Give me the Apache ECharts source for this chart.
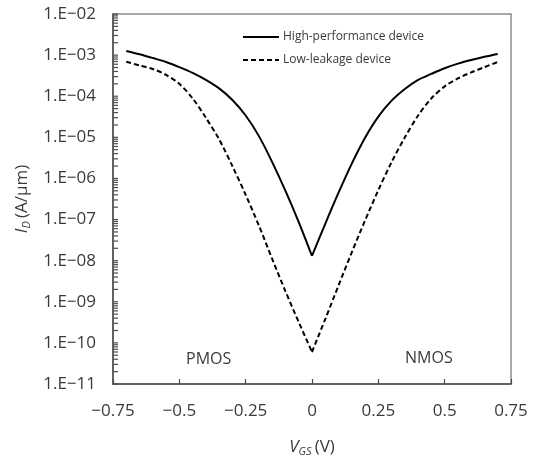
<!DOCTYPE html>
<html>
<head>
<meta charset="utf-8">
<script src="https://cdn.jsdelivr.net/npm/echarts@6/dist/echarts.min.js"></script>
<style>
html, body { margin: 0; padding: 0; background: #fff; }
#chart { width: 538px; height: 462px; }
</style>
</head>
<body>
<div id="chart"></div>
<script>
// Gate voltage sweep (V)
const vgs = [-0.70, -0.65, -0.60, -0.55, -0.50, -0.45, -0.40, -0.35, -0.30, -0.25,
             -0.20, -0.15, -0.10, -0.05, 0.00, 0.05, 0.10, 0.15, 0.20, 0.25,
             0.30, 0.35, 0.40, 0.45, 0.50, 0.55, 0.60, 0.65, 0.70];

// Drain current (A/µm), high-performance device
const highPerformance = [1.26e-3, 1.05e-3, 8.5e-4, 6.8e-4, 5.1e-4, 3.7e-4, 2.5e-4, 1.55e-4, 8.1e-5, 3.4e-5,
                         1.07e-5, 2.5e-6, 5.0e-7, 8.7e-8, 1.3e-8, 7.9e-8, 4.5e-7, 2.3e-6, 9.8e-6, 3.2e-5,
                         7.8e-5, 1.5e-4, 2.5e-4, 3.5e-4, 4.8e-4, 6.2e-4, 7.6e-4, 9.1e-4, 1.07e-3];

// Drain current (A/µm), low-leakage device
const lowLeakage = [6.9e-4, 5.6e-4, 4.6e-4, 3.3e-4, 2.0e-4, 8.9e-5, 3.0e-5, 8.9e-6, 2.0e-6, 4.0e-7,
                    7.1e-8, 1.1e-8, 1.8e-9, 3.2e-10, 6.0e-11, 3.8e-10, 2.5e-9, 1.6e-8, 9.5e-8, 5.2e-7,
                    2.5e-6, 1.0e-5, 3.4e-5, 8.9e-5, 1.74e-4, 2.7e-4, 3.8e-4, 5.1e-4, 6.8e-4];

const seriesNames = ['High-performance device', 'Low-leakage device'];
const regionLabels = ['PMOS', 'NMOS'];

// Axis ranges
const xMin = -0.75, xMax = 0.75, xStep = 0.25;
const yMinExp = -11, yMaxExp = -2;

// Log-spaced tick positions on the current axis: 1..9 × 10^n for every decade
const yTickValues = [];
for (let e = yMinExp; e < yMaxExp; e++) {
  for (let k = 1; k <= 9; k++) yTickValues.push(k * Math.pow(10, e));
}
yTickValues.push(Math.pow(10, yMaxExp));

const FONT = '"Open Sans", "Noto Sans", sans-serif';
const TEXT = '#3a3a3a';
const AXIS = '#4d4d4d';

// Each sweep is drawn as two branches (V ≤ 0 and V ≥ 0) so the curves stay
// smooth while the minimum at V = 0 keeps its sharp corner.
const zeroIdx = vgs.indexOf(0);
const branch = (ys, left) => vgs
  .map((v, i) => [v, ys[i]])
  .filter((_, i) => (left ? i <= zeroIdx : i >= zeroIdx));

const lineSeries = (name, ys, left, dashed) => ({
  name,
  type: 'line',
  symbol: 'none',
  smooth: 0.3,
  lineStyle: { color: '#000', width: 2, type: dashed ? [5, 3] : 'solid' },
  itemStyle: { color: '#000' },
  data: branch(ys, left)
});

const chart = echarts.init(document.getElementById('chart'), null, { renderer: 'canvas' });

chart.setOption({
  backgroundColor: '#fff',
  animation: false,
  textStyle: { fontFamily: FONT },
  grid: {
    left: 113, right: 27, top: 14, bottom: 69,
    show: true, borderColor: '#8a8a8a', borderWidth: 1.5, backgroundColor: 'transparent'
  },
  legend: {
    orient: 'vertical',
    left: 237, top: 26,
    itemWidth: 36, itemHeight: 14, itemGap: 11,
    itemStyle: { opacity: 0 },
    textStyle: { fontFamily: FONT, fontSize: 12, color: TEXT, padding: [0, 0, 0, -1] },
    data: seriesNames
  },
  xAxis: {
    type: 'value',
    min: xMin, max: xMax, interval: xStep,
    splitLine: { show: false },
    axisLine: { onZero: false, lineStyle: { color: AXIS, width: 1.5 } },
    axisTick: { show: true, inside: true, length: 5, lineStyle: { color: AXIS, width: 1.2 } },
    axisLabel: {
      margin: 19, fontSize: 17, color: TEXT, fontFamily: FONT,
      formatter: (v) => String(Math.round(v * 100) / 100).replace('-', '\u2212')
    },
    name: '{v|V}{s|GS} {n|(V)}',
    nameLocation: 'middle',
    nameGap: 53,
    nameTextStyle: {
      rich: {
        v: { fontFamily: FONT, fontSize: 17, fontStyle: 'italic', color: TEXT },
        s: { fontFamily: FONT, fontSize: 11, fontStyle: 'italic', color: TEXT, padding: [9, 0, 0, 0] },
        n: { fontFamily: FONT, fontSize: 17, color: TEXT }
      }
    }
  },
  yAxis: {
    type: 'log',
    logBase: 10,
    min: Math.pow(10, yMinExp), max: Math.pow(10, yMaxExp),
    interval: 1,
    splitLine: { show: false },
    axisLine: { onZero: false, lineStyle: { color: AXIS, width: 1.5 } },
    axisTick: { show: false },
    axisLabel: {
      margin: 17, fontSize: 17, color: TEXT, fontFamily: FONT,
      formatter: (v) => {
        const e = Math.round(Math.log10(v));
        const mag = String(Math.abs(e)).padStart(2, '0');
        return '1.E' + (e < 0 ? '\u2212' : '+') + mag;
      }
    },
    name: '{i|I}{s|D} {n|(A/µm)}',
    nameLocation: 'middle',
    nameGap: 78,
    nameTextStyle: {
      rich: {
        i: { fontFamily: FONT, fontSize: 17, fontStyle: 'italic', color: TEXT },
        s: { fontFamily: FONT, fontSize: 11, fontStyle: 'italic', color: TEXT, padding: [9, 0, 0, 0] },
        n: { fontFamily: FONT, fontSize: 17, color: TEXT }
      }
    }
  },
  series: [
    lineSeries(seriesNames[0], highPerformance, true, false),
    lineSeries(seriesNames[0], highPerformance, false, false),
    lineSeries(seriesNames[1], lowLeakage, true, true),
    lineSeries(seriesNames[1], lowLeakage, false, true),
    {
      // Inward log ticks along the current axis
      type: 'custom',
      silent: true,
      clip: false,
      data: yTickValues.map((v) => [xMin, v]),
      renderItem: (params, api) => {
        const p = api.coord([api.value(0), api.value(1)]);
        return {
          type: 'line',
          shape: { x1: p[0], y1: p[1], x2: p[0] + 5, y2: p[1] },
          style: { stroke: AXIS, lineWidth: 1.2 }
        };
      }
    }
  ],
  graphic: [
    { type: 'text', left: 186, top: 351, style: { text: regionLabels[0], fontFamily: FONT, fontSize: 16, fill: TEXT } },
    { type: 'text', left: 405, top: 350, style: { text: regionLabels[1], fontFamily: FONT, fontSize: 16, fill: TEXT } }
  ]
});
</script>
</body>
</html>
